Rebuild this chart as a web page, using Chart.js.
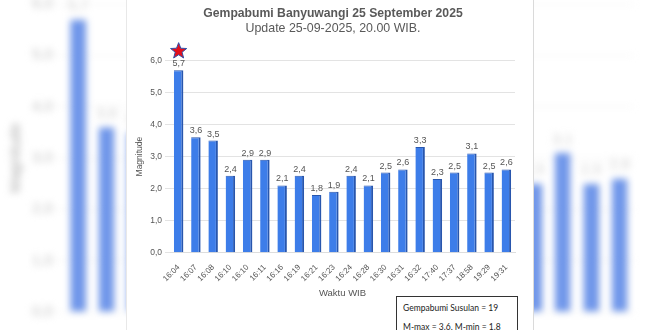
<!DOCTYPE html>
<html>
<head>
<meta charset="utf-8">
<script src="https://cdn.jsdelivr.net/npm/chart.js@4.4.0/dist/chart.umd.min.js"></script>
<style>
  html, body { margin: 0; padding: 0; background: #fff; }
  #wrap { position: relative; width: 660px; height: 330px; overflow: hidden; }
  #bg { position: absolute; left: 0; top: -8px; filter: blur(3.5px); }
  #panel { position: absolute; left: 126px; top: 0; width: 406px; height: 330px; background: #fff;
           border-left: 1px solid #e8e8e8; border-right: 1px solid #dadada; }
  #main { position: absolute; left: 0; top: 0; }
  #info { position: absolute; left: 396px; top: 296px; width: 122px; height: 50px; box-sizing: border-box;
          border: 1px solid #333; background: #fff; color: #222; font: 8.5px Lato, sans-serif;
          white-space: nowrap; overflow: hidden; padding: 2px 0 0 6px; line-height: 19px; }
</style>
</head>
<body>
<div id="wrap">
  <canvas id="bg" width="660" height="340"></canvas>
  <div id="panel"></div>
  <canvas id="main" width="660" height="330"></canvas>
  <div id="info">Gempabumi Susulan = 19<br>M-max = 3.6, M-min = 1.8</div>
</div>
<script>
// ===== Data =====
const times = ['16:04', '16:07', '16:08', '16:10', '16:10', '16:11', '16:16', '16:19', '16:21', '16:23',
               '16:24', '16:28', '16:30', '16:31', '16:32', '17:40', '17:37', '18:58', '19:29', '19:31'];
const magnitudes = [5.7, 3.6, 3.5, 2.4, 2.9, 2.9, 2.1, 2.4, 1.8, 1.9,
                    2.4, 2.1, 2.5, 2.6, 3.3, 2.3, 2.5, 3.1, 2.5, 2.6];
const yTicks = [0, 1, 2, 3, 4, 5, 6];

const FONT = '"Liberation Sans", Arial, sans-serif';
const fmt = v => v.toFixed(1).replace('.', ',');

// value labels above each bar
const valueLabels = {
  id: 'valueLabels',
  afterDatasetsDraw(chart, args, opts) {
    const { ctx } = chart;
    const meta = chart.getDatasetMeta(0);
    ctx.save();
    ctx.font = `${opts.size || 10}px ${FONT}`;
    ctx.fillStyle = opts.color || '#555';
    ctx.textAlign = 'center';
    ctx.textBaseline = 'bottom';
    meta.data.forEach((bar, i) => {
      ctx.fillText(fmt(magnitudes[i]), bar.x, bar.y - (opts.gap || 3));
    });
    ctx.restore();
  }
};

// red star above the main shock
const starMark = {
  id: 'starMark',
  afterDatasetsDraw(chart, args, opts) {
    if (!opts.show) return;
    const { ctx } = chart;
    const bar = chart.getDatasetMeta(0).data[0];
    const cx = bar.x, cy = bar.y - 19;
    const R = 8.5, r = 3.6;
    ctx.save();
    ctx.beginPath();
    for (let i = 0; i < 10; i++) {
      const rad = i % 2 ? r : R;
      const a = -Math.PI / 2 + i * Math.PI / 5;
      const px = cx + rad * Math.cos(a), py = cy + rad * Math.sin(a);
      i ? ctx.lineTo(px, py) : ctx.moveTo(px, py);
    }
    ctx.closePath();
    ctx.fillStyle = '#e3101c';
    ctx.fill();
    ctx.lineWidth = 1;
    ctx.strokeStyle = '#2f4fa8';
    ctx.stroke();
    ctx.restore();
  }
};

Chart.register(valueLabels, starMark);
Chart.defaults.animation = false;
Chart.defaults.font.family = FONT;

function barDataset(color, side) {
  return {
    data: magnitudes,
    backgroundColor: color,
    borderColor: side,
    borderWidth: { top: 1, right: 2, left: 0, bottom: 0 },
    borderSkipped: false,
    categoryPercentage: 1,
    barPercentage: 0.55,
  };
}

// blurred, zoomed copy behind the panel
new Chart(document.getElementById('bg'), {
  type: 'bar',
  data: { labels: times, datasets: [barDataset('#6f96ea', '#6389dc')] },
  options: {
    responsive: false,
    layout: { padding: { left: 3, right: 26, top: 0, bottom: 12 } },
    plugins: {
      legend: { display: false }, tooltip: { enabled: false },
      valueLabels: { size: 15, color: '#d0d0d0', gap: 6 },
      starMark: { show: false }
    },
    scales: {
      x: { grid: { display: false }, border: { display: false }, ticks: { display: false } },
      y: {
        min: 0, max: 6,
        afterBuildTicks: axis => { axis.ticks = yTicks.map(v => ({ value: v })); },
        grid: { color: '#f0f0f0', tickLength: 8 }, border: { display: false },
        title: { display: true, text: 'Magnitude', color: '#aaa', font: { size: 15 } },
        ticks: { color: '#c4c4c4', font: { size: 15 }, padding: 3, callback: v => fmt(v) }
      }
    }
  }
});

new Chart(document.getElementById('main'), {
  type: 'bar',
  data: { labels: times, datasets: [barDataset('#3d7de9', '#2856ad')] },
  options: {
    responsive: false,
    layout: { padding: { left: 131, right: 125, top: 0, bottom: 27 } },
    plugins: {
      legend: { display: false }, tooltip: { enabled: false },
      valueLabels: { size: 9, color: '#555', gap: 2 },
      starMark: { show: true },
      title: {
        display: true, text: 'Gempabumi Banyuwangi 25 September 2025',
        color: '#595959', font: { size: 12.2, weight: 'bold' }, padding: { top: 6, bottom: 0 }
      },
      subtitle: {
        display: true, text: 'Update 25-09-2025, 20.00 WIB.',
        color: '#595959', font: { size: 12.4 }, padding: { top: 0, bottom: 25 }
      }
    },
    scales: {
      x: {
        grid: { display: false },
        border: { color: '#ddd' },
        ticks: { color: '#555', font: { size: 8 }, maxRotation: 45, minRotation: 45, autoSkip: false, padding: 2 },
        title: { display: true, text: 'Waktu WIB', color: '#555', font: { size: 9.5 }, padding: { top: 2 } }
      },
      y: {
        min: 0, max: 6,
        afterBuildTicks: axis => { axis.ticks = yTicks.map(v => ({ value: v })); },
        grid: { color: '#e3e3e3', tickLength: 5 },
        border: { display: false },
        ticks: { color: '#555', font: { size: 8.5 }, padding: 3, callback: v => fmt(v) },
        title: { display: true, text: 'Magnitude', color: '#555', font: { size: 8.5 }, padding: { bottom: 2 } }
      },
      // empty spacer on the right so the title centres like the original
      spacer: {
        type: 'linear', position: 'right', display: true,
        grid: { display: false }, border: { display: false }, ticks: { display: false },
        afterFit: axis => { axis.width = 20; }
      }
    }
  }
});
</script>
</body>
</html>
